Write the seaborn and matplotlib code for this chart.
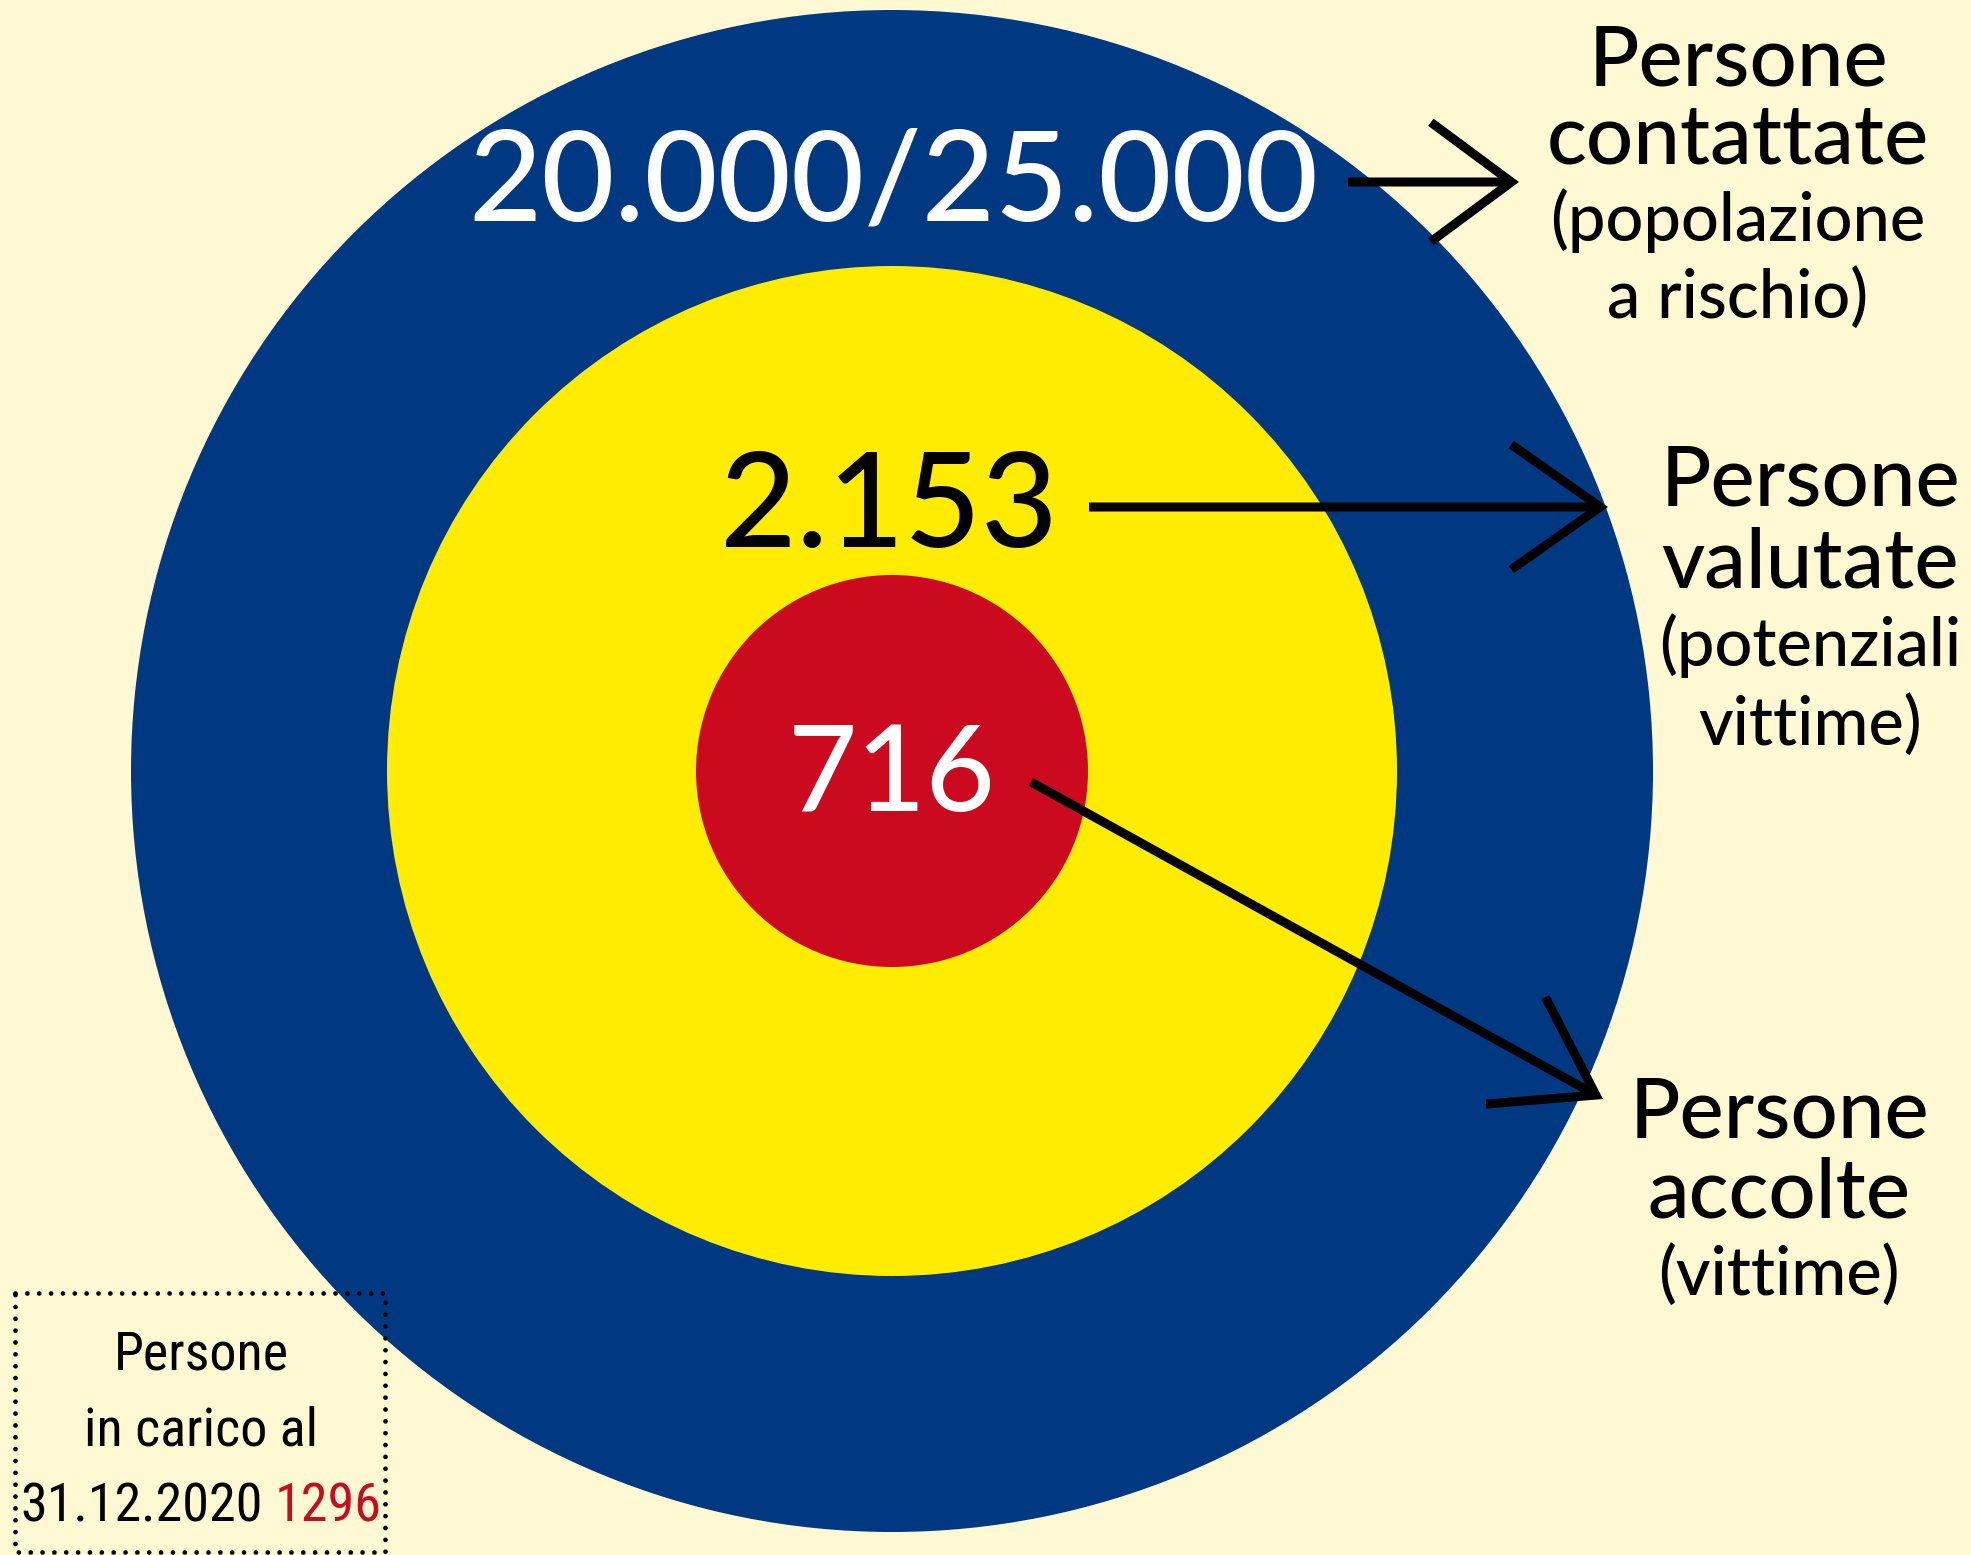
import matplotlib.pyplot as plt
import seaborn as sns
from matplotlib.patches import Circle, Rectangle
from matplotlib import font_manager

# --- data -------------------------------------------------------------
ring_values = ["20.000/25.000", "2.153", "716"]          # outer -> inner
ring_titles = ["Persone\ncontattate", "Persone\nvalutate", "Persone\naccolte"]
ring_notes = ["(popolazione\na rischio)", "(potenziali\nvittime)", "(vittime)"]
box_lines = ["Persone", "in carico al"]
box_date = "31.12.2020"
box_total = "1296"

# --- style ------------------------------------------------------------
cream = "#FFF9D3"
ring_colors = ["#003882", "#FFEC00", "#CB0A1F"]
value_colors = ["white", "black", "white"]
red_text = "#CB0A1F"

sns.set_theme(style="white")
plt.rcParams["font.family"] = ["Lato", "DejaVu Sans"]

# look for a condensed face for the small box
fonts = font_manager.fontManager.ttflist
narrow, narrow_stretch, box_size = None, "normal", 34
for want in ["Liberation Sans Narrow", "Roboto Condensed", "Open Sans Condensed",
             "Noto Sans Condensed"]:
    if any(f.name == want for f in fonts):
        narrow, box_size = want, 39
        break
if narrow is None:
    cond = [f for f in fonts if f.stretch in ("condensed", "semi-condensed", 600, 700)
            or "Condensed" in f.name or "Narrow" in f.name]
    if cond:
        narrow, narrow_stretch, box_size = cond[0].name, "condensed", 39
    else:
        narrow = "Lato"

fig = plt.figure(figsize=(19.71, 15.55), dpi=100, facecolor=cream)
ax = fig.add_axes([0, 0, 1, 1])
ax.set_facecolor(cream)
ax.set_xlim(0, 1971)
ax.set_ylim(1555, 0)
ax.axis("off")

# concentric rings
center = (892, 771)
radii = [761, 505, 196]
for r, c in zip(radii, ring_colors):
    ax.add_patch(Circle(center, r, facecolor=c, edgecolor="none"))

# numbers inside the rings
value_pos = [(893, 221), (889, 547), (892, 811)]
value_sizes = [91, 95, 86]
for txt, (x, y), s, c in zip(ring_values, value_pos, value_sizes, value_colors):
    ax.text(x, y, txt, ha="center", va="baseline", fontsize=s, color=c,
            fontweight="medium")

# arrows (tail, tip, head length pt, head half-width pt)
arrows = [((1348, 182), (1519, 182), 58, 43),
          ((1089, 507), (1608, 507), 64, 45),
          ((1031, 782), (1603, 1099), 66, 44)]
for tail, tip, hl, hw in arrows:
    ax.annotate("", xy=tip, xytext=tail,
                arrowprops=dict(arrowstyle=f"->,head_length={hl/10},head_width={hw/10}",
                                mutation_scale=10, lw=6.5, color="black",
                                shrinkA=0, shrinkB=0, joinstyle="miter",
                                capstyle="butt"))

# labels on the right
label_x = [1738, 1810, 1779]
label_y = [[85, 163, 241, 318], [505, 588, 666, 745], [1138, 1217, 1295]]
for title, note, x, ys in zip(ring_titles, ring_notes, label_x, label_y):
    lines = [(t, 60) for t in title.split("\n")] + [(t, 48) for t in note.split("\n")]
    for (t, s), y in zip(lines, ys):
        ax.text(x, y, t, ha="center", va="baseline", fontsize=s, color="black",
                fontweight="medium")

# dotted box bottom-left
ax.add_patch(Rectangle((15, 1293), 370, 259, fill=False, edgecolor="black",
                       lw=3.4, linestyle=(0, (0.01, 2.5)), capstyle="round"))
box_x = 201
box_font = dict(fontsize=box_size, family=narrow, fontstretch=narrow_stretch,
                va="baseline")
for t, y in zip(box_lines, [1370, 1446]):
    ax.text(box_x, y, t, ha="center", color="black", **box_font)
t_date = ax.text(0, 1521, box_date, ha="left", color="black", **box_font)
t_tot = ax.text(0, 1521, box_total, ha="left", color=red_text, **box_font)
rend = fig.canvas.get_renderer()
w1 = t_date.get_window_extent(rend).width
w2 = t_tot.get_window_extent(rend).width
gap = 11
x0 = box_x - (w1 + gap + w2) / 2
t_date.set_x(x0)
t_tot.set_x(x0 + w1 + gap)

fig.savefig("out.png", dpi=100, facecolor=cream)
